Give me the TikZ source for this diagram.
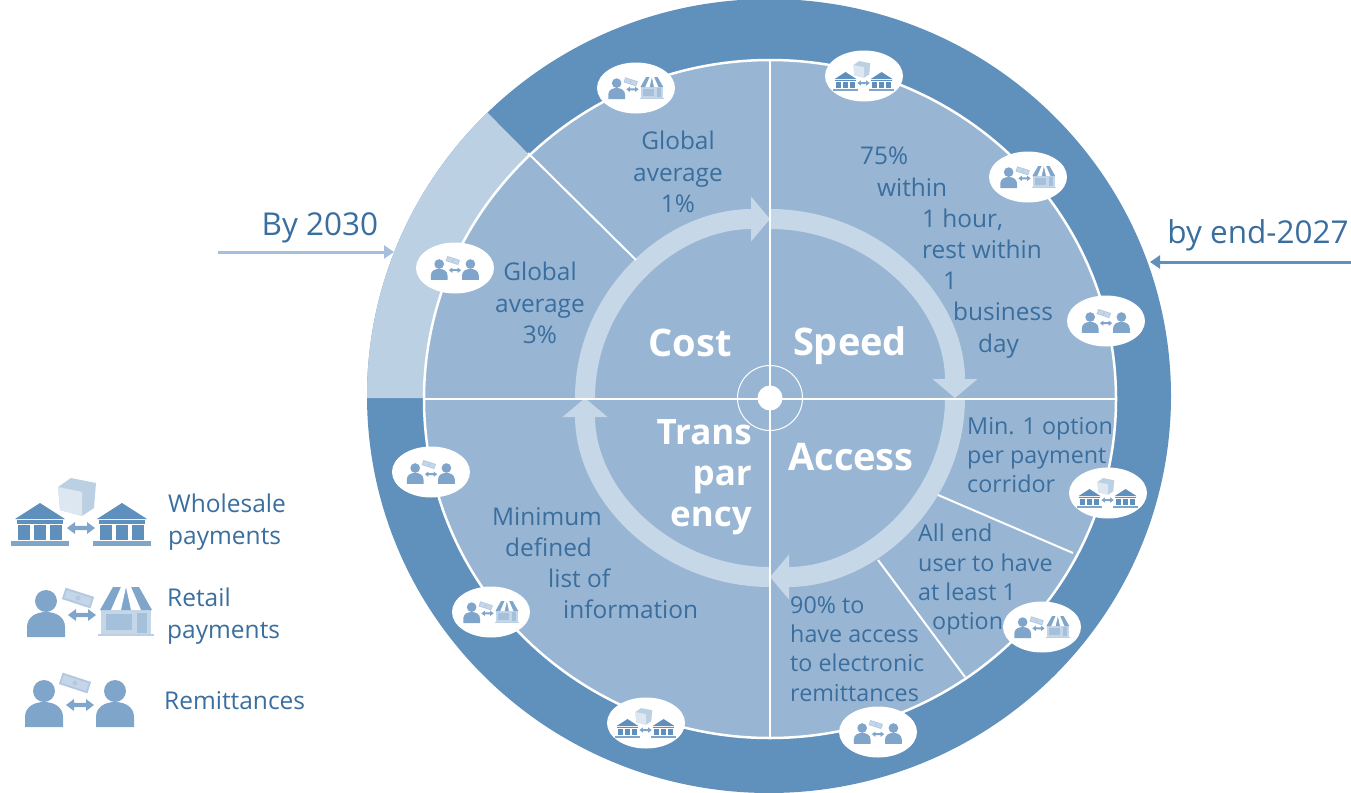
\documentclass[tikz,border=0pt]{standalone}
\usepackage{fontspec}
\setmainfont{Open Sans}
\usetikzlibrary{arrows.meta}
\usetikzlibrary{shapes.geometric}
\definecolor{ringdark}{HTML}{6090BC}
\definecolor{ringlight}{HTML}{BCD0E3}
\definecolor{sectorblue}{HTML}{98B6D3}
\definecolor{bandblue}{HTML}{C6D7E7}
\definecolor{inkblue}{HTML}{3A6E9E}
\definecolor{iconblue}{HTML}{7FA5CB}
\definecolor{bankblue}{HTML}{5F8FBC}
\definecolor{paleblue}{HTML}{C4D6E8}
\tikzset{
  every pic/.style={transform shape},
  bodytext/.style={text=inkblue, inner sep=0pt, align=left, anchor=north west, font=\fontsize{24.4}{31.2}\selectfont},
  midtext/.style={bodytext, align=center, anchor=center},
  tighttext/.style={bodytext, font=\fontsize{23.3}{29.3}\selectfont},
  headtext/.style={text=white, inner sep=0pt, font=\fontsize{38}{42}\selectfont\bfseries},
  legendtext/.style={bodytext, font=\fontsize{24.5}{31.5}\selectfont},
  datetext/.style={text=inkblue, inner sep=0pt, font=\fontsize{31.5}{36}\selectfont},
  badge/.style={draw=none, fill=white, ellipse, inner sep=0pt, minimum width=78pt, minimum height=51pt},
  spoke/.style={draw=white, line width=2pt},
  bandarrow/.style={draw=bandblue, line width=20pt, -{Triangle[width=44pt,length=19pt]}},
  leadarrow/.style={line width=3pt, -{Triangle[width=13pt,length=10pt]}},
  pics/bank/.style={code={
    \fill[bankblue] (-25,27) -- (0,43) -- (25,27) -- cycle;
    \fill[bankblue] (-23,22) rectangle (23,26);
    \foreach \x in {-16,0,16} \fill[bankblue] (\x-6,6) rectangle (\x+6,21);
    \fill[bankblue!80] (-29,0) rectangle (29,5);
  }},
  pics/swap/.style={code={
    \fill[iconblue] (-14,0) -- (-6,6) -- (-6,2.2) -- (6,2.2) -- (6,6) -- (14,0) -- (6,-6) -- (6,-2.2) -- (-6,-2.2) -- (-6,-6) -- cycle;
  }},
  pics/person/.style={code={
    \fill[iconblue] (0,36) circle [radius=11];
    \fill[iconblue] (-19,0) -- (-19,10) .. controls (-19,20) and (-10,25) .. (0,25) .. controls (10,25) and (19,20) .. (19,10) -- (19,0) -- cycle;
  }},
  pics/cash/.style={code={
    \begin{scope}[rotate=-18]
      \fill[iconblue!60] (-15,-6) rectangle (15,6);
      \fill[paleblue] (-13,-4) rectangle (13,4);
      \fill[iconblue!60] (0,0) circle [radius=2.5];
    \end{scope}
  }},
  pics/stack/.style={code={
    \fill[ringlight] (-19,10) -- (-6,19) -- (19,14) -- (17,-11) -- (5,-19) -- (-17,-13) -- cycle;
    \fill[paleblue!60] (-19,10) -- (5,5) -- (5,-19) -- (-17,-13) -- cycle;
  }},
  pics/shop/.style={code={
    \fill[paleblue] (-25,0) rectangle (25,27);
    \fill[iconblue!70] (-20,6) rectangle (6,22);
    \fill[iconblue!70] (11,3) rectangle (21,23);
    \fill[ringlight] (-28,0) rectangle (28,2);
    \fill[iconblue] (-26,26) -- (-13,49) -- (13,49) -- (26,26) -- cycle;
    \fill[white] (-15,26) -- (-5,49) -- (0,49) -- (-5,26) -- cycle;
    \fill[white] (5,26) -- (0,49) -- (5,49) -- (15,26) -- cycle;
  }},
  pics/wholesale/.style={code={
    \pic at (-5,15) {stack};
    \pic at (-42,-34) {bank};
    \pic at (40,-34) {bank};
    \pic at (-1,-16) {swap};
  }},
  pics/retail/.style={code={
    \pic at (-44,-25) {person};
    \pic at (36,-24) {shop};
    \pic at (-12,14) {cash};
    \pic at (-8,-3) {swap};
  }},
  pics/remit/.style={code={
    \pic at (-36,-27) {person};
    \pic at (35,-27) {person};
    \pic at (-5,17) {cash};
    \pic at (0,-5) {swap};
  }},
}

\begin{document}
\begin{tikzpicture}[x=1pt,y=1pt]
\useasboundingbox (0,0) rectangle (1351,-792);
% outer ring, By 2030 part lighter
\fill[ringdark] (769,-396) ellipse [x radius=402,y radius=397];
\begin{scope}
  \clip (769,-396) ellipse [x radius=402,y radius=397];
  \fill[ringlight] (770,-398) -- (372,4) -- (300,4) -- (300,-398) -- cycle;
\end{scope}
\draw[fill=sectorblue, draw=white, line width=2.5pt] (770,-399) ellipse [x radius=346,y radius=339];
% band of arrows
\foreach \a/\x/\y in {180/585/398, 90/770/219, 0/955/398, -90/770/577}
  \draw[bandarrow] (\x,-\y) coordinate (band\a) arc [start angle=\a, end angle=\a-90, x radius=185, y radius=179];
% spokes
\coordinate (north) at (770,-60);
\coordinate (south) at (770,-738);
\coordinate (west) at (424,-398.5);
\coordinate (east) at (1116,-398.5);
\coordinate (cost in) at (636,-260);
\coordinate (cost out) at (528,-153);
\coordinate (access a in) at (938,-495);
\coordinate (access a out) at (1073,-553);
\coordinate (access b in) at (878,-560);
\coordinate (access b out) at (965,-677);
\draw[spoke] (north) -- (south);
\draw[spoke] (west) -- (east);
\draw[spoke] (cost in) -- (cost out);
\draw[spoke] (access a in) -- (access a out);
\draw[spoke] (access b in) -- (access b out);
\node[circle, fill=white, inner sep=0pt, minimum size=25pt] (hub) at (770,-398) {};
\node[circle, draw=white, line width=1pt, inner sep=0pt, minimum size=65pt] (hubring) at (770,-398) {};
% badges on the circle
\foreach \x/\y/\kind [count=\i] in {636/88/retail, 864/76/wholesale, 1028/177/retail, 1106/321/remit,
    1108/493/wholesale, 1042/627/retail, 878/732/remit, 646/723/wholesale, 491/612/retail, 431/472/remit, 455/268/remit} {
  \node[badge] (badge\i) at (\x,-\y) {};
  \pic[scale=.44] at (badge\i) {\kind};
}
% quadrant names
\node[headtext] (cost) at (690,-343) {Cost};
\node[headtext] (speed) at (850,-346) {Speed};
\node[headtext] (access) at (851,-457) {Access};
\node[headtext, align=right, anchor=north east, font=\fontsize{35}{41}\selectfont\bfseries] (transparency) at (752,-419) {Trans\\par\\ency};
% targets
\node[midtext] (cost one) at (678,-172) {Global\\average\\1\%};
\node[midtext] (cost three) at (540,-303) {Global\\average\\3\%};
\node[bodytext] (speed text) at (860,-147) {75\%\\\hspace*{17pt}within\\\hspace*{62pt}1 hour,\\\hspace*{62pt}rest within\\\hspace*{83pt}1\\\hspace*{93pt}business\\\hspace*{118pt}day};
\node[tighttext] (access one) at (967,-417) {Min. 1 option\\per payment\\corridor};
\node[tighttext] (access two) at (918,-524) {All end\\user to have\\at least 1\\\hspace*{14pt}option};
\node[tighttext] (access three) at (790,-596) {90\% to\\have access\\to electronic\\remittances};
\node[bodytext] (transparency text) at (492,-507) {Minimum\\\hspace*{13pt}defined\\\hspace*{56pt}list of\\\hspace*{71pt}information};
% deadlines
\node[datetext] (by2030) at (320,-228) {By 2030};
\coordinate (by2030 from) at (218,-252);
\coordinate (by2030 to) at (394,-252);
\draw[leadarrow, draw=iconblue!70, fill=iconblue!70] (by2030 from) -- (by2030 to);
\node[datetext] (by2027) at (1258,-235) {by end-2027};
\coordinate (by2027 from) at (1351,-262);
\coordinate (by2027 to) at (1150,-262);
\draw[leadarrow, draw=ringdark, fill=ringdark] (by2027 from) -- (by2027 to);
% legend
\pic at (82,-512) {wholesale};
\pic at (90,-612) {retail};
\pic at (80,-700) {remit};
\node[legendtext] (wholesale) at (168,-494) {Wholesale\\payments};
\node[legendtext] (retail) at (167,-588) {Retail\\payments};
\node[legendtext] (remittances) at (164,-691) {Remittances};
\end{tikzpicture}
\end{document}
